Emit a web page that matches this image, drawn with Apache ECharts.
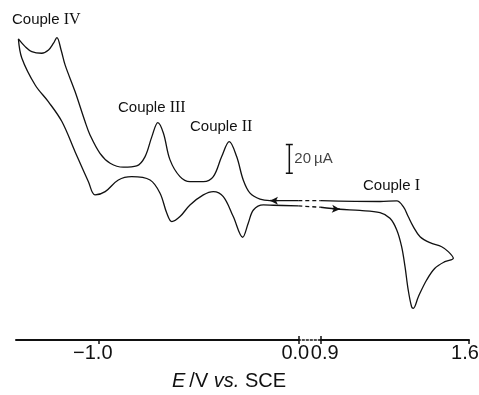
<!DOCTYPE html>
<html>
<head>
<meta charset="utf-8">
<script src="https://cdn.jsdelivr.net/npm/echarts@6/dist/echarts.min.js"></script>
<style>
html,body{margin:0;padding:0;background:#fff;}
#chart{width:479px;height:395px;}
</style>
</head>
<body>
<div id="chart"></div>
<script>
// ---- Data (E in V vs. SCE, current in µA; upward = cathodic) ----
// Negative-going scan from 0.0 V to the negative vertex (upper trace)
var upperE = [0.0, -0.142, -0.192, -0.242, -0.276, -0.309, -0.346, -0.384, -0.426, -0.476, -0.543, -0.593, -0.643, -0.676, -0.704, -0.734, -0.768, -0.810, -0.877, -0.943, -0.994, -1.044, -1.069, -1.119, -1.169, -1.189, -1.210, -1.227, -1.252, -1.286, -1.336, -1.369, -1.403];
var upperI = [1.6, 1.6, 2.6, 6.8, 16.0, 32.3, 42.7, 32.3, 18.3, 14.8, 14.8, 18.3, 30.0, 48.6, 56.0, 46.2, 32.3, 25.8, 24.9, 27.7, 34.6, 47.4, 56.7, 77.6, 96.2, 106.6, 115.2, 111.3, 106.6, 104.3, 105.4, 108.9, 114.3];
// Return scan from the negative vertex back to 0.0 V (lower trace)
var lowerE = [-1.386, -1.319, -1.253, -1.185, -1.119, -1.052, -1.019, -0.968, -0.902, -0.835, -0.743, -0.693, -0.659, -0.634, -0.593, -0.543, -0.476, -0.426, -0.376, -0.326, -0.279, -0.251, -0.225, -0.175, -0.125, 0.0];
var lowerI = [101.0, 82.2, 70.6, 56.7, 35.7, 14.8, 5.6, 7.9, 16.0, 18.3, 16.0, 6.8, -7.2, -13.0, -9.5, -1.4, 5.6, 7.9, 4.4, -9.5, -23.9, -14.1, -4.9, -1.4, -1.6, -2.1];
// Broken (dashed) part between 0.0 V and 0.9 V
var gapE = [0.0, 0.9];
var gapUpperI = [1.6, 1.6];
var gapLowerI = [-2.1, -3.0];
// Positive-going scan 0.9 V -> positive vertex (Couple I oxidation)
var rightFwdE = [0.900, 0.991, 1.085, 1.180, 1.227, 1.259, 1.282, 1.298, 1.313, 1.329, 1.337, 1.361, 1.400, 1.439, 1.486, 1.526];
var rightFwdI = [-3.0, -4.4, -5.2, -6.8, -10.7, -18.8, -30.4, -44.4, -60.6, -72.3, -73.4, -65.3, -53.7, -45.5, -40.9, -38.5];
// Return from the positive vertex to 0.9 V
var rightRevE = [1.502, 1.471, 1.416, 1.369, 1.337, 1.313, 1.290, 1.259, 1.180, 0.900];
var rightRevI = [-33.9, -30.5, -27.7, -23.5, -16.5, -9.5, -2.6, 1.4, 1.0, 1.6];
// Scan-direction arrows
var arrowUpE = [-0.105, -0.142];
var arrowUpI = [1.6, 1.6];
var arrowDownE = [0.955, 0.991];
var arrowDownI = [-4.0, -4.4];
// 20 µA scale bar
var scaleBarE = [-0.045, -0.045];
var scaleBarI = [20.7, 40.7];
// Axis ticks / labels
var leftTicks = [-1.0, 0.0];
var rightTicks = [0.9, 1.6];
var tickLabels = {'-1': '\u22121.0', '0': '0.0', '0.9': '0.9', '1.6': '1.6'};
var coupleLabels = ['Couple ', 'IV', 'III', 'II', 'I'];

function zip(a, b) { return a.map(function (v, k) { return [v, b[k]]; }); }

var leftData = zip(upperE, upperI).concat(zip(lowerE, lowerI));
var rightData = zip(rightFwdE, rightFwdI).concat(zip(rightRevE, rightRevI));

var INK = '#111';
var LW = 1.3;
var yMin = -95.5, yMax = 120.5;
var gridTop = 30, gridBottom = 55;
var SANS = 'Liberation Sans, Arial, sans-serif';

var chart = echarts.init(document.getElementById('chart'), null, {renderer: 'canvas'});

function coupleText(x, y, num) {
  return {
    type: 'text', left: x, top: y - 8, silent: true,
    style: {
      text: '{a|' + coupleLabels[0] + '}{b|' + num + '}',
      rich: {
        a: {fontFamily: SANS, fontSize: 15, fill: INK},
        b: {fontFamily: 'Liberation Serif, Times New Roman, serif', fontSize: 16, fill: INK}
      }
    }
  };
}

var LFS = 20;
var labelRich = {
  m: {fontSize: LFS, fontFamily: SANS, color: INK, padding: [0, 12, 0, 0]},
  z: {fontSize: LFS, fontFamily: SANS, color: INK, padding: [0, 6, 0, 0]},
  n: {fontSize: LFS, fontFamily: SANS, color: INK, padding: [0, 0, 0, 8]},
  e: {fontSize: LFS, fontFamily: SANS, color: INK, padding: [0, 8, 0, 0]}
};
function fmt(v) {
  var key = String(Math.round(v * 10) / 10);
  var t = tickLabels[key];
  if (key === '-1') return '{m|' + t + '}';
  if (key === '0') return '{z|' + t + '}';
  if (key === '0.9') return '{n|' + t + '}';
  return '{e|' + t + '}';
}

var baseX = {
  type: 'value', splitLine: {show: false},
  axisLine: {show: true, onZero: false, lineStyle: {color: INK, width: 2}},
  axisTick: {show: true, length: 4, inside: false, lineStyle: {color: INK, width: 1.5}},
  axisLabel: {show: true, margin: 3, formatter: fmt, rich: labelRich, fontSize: LFS, color: INK}
};

var option = {
  animation: false,
  backgroundColor: '#fff',
  grid: [
    {left: 16, width: 282.3, top: gridTop, bottom: gridBottom, outerBoundsMode: 'none', containLabel: false},
    {left: 298.3, width: 22.4, top: gridTop, bottom: gridBottom, outerBoundsMode: 'none', containLabel: false},
    {left: 320.7, width: 148.3, top: gridTop, bottom: gridBottom, outerBoundsMode: 'none', containLabel: false}
  ],
  xAxis: [
    Object.assign({}, baseX, {gridIndex: 0, min: -1.415, max: 0.0,
      axisTick: Object.assign({}, baseX.axisTick, {customValues: leftTicks}),
      axisLabel: Object.assign({}, baseX.axisLabel, {customValues: leftTicks})}),
    {type: 'value', gridIndex: 1, min: 0, max: 0.9, splitLine: {show: false},
      axisLine: {show: true, onZero: false, lineStyle: {color: INK, width: 1.5, type: [2, 2]}},
      axisTick: {show: true, inside: true, length: 4, customValues: [0, 0.9], lineStyle: {color: INK, width: 1.5}},
      axisLabel: {show: false}},
    Object.assign({}, baseX, {gridIndex: 2, min: 0.9, max: 1.6,
      axisTick: Object.assign({}, baseX.axisTick, {customValues: rightTicks}),
      axisLabel: Object.assign({}, baseX.axisLabel, {customValues: rightTicks})})
  ],
  yAxis: [
    {type: 'value', gridIndex: 0, min: yMin, max: yMax, show: false},
    {type: 'value', gridIndex: 1, min: yMin, max: yMax, show: false},
    {type: 'value', gridIndex: 2, min: yMin, max: yMax, show: false}
  ],
  series: [
    {
      type: 'line', xAxisIndex: 0, yAxisIndex: 0, data: leftData,
      smooth: 0.35, showSymbol: false, clip: false,
      lineStyle: {color: INK, width: LW},
      markLine: {
        silent: true, symbol: ['none', 'arrow'], symbolSize: [6, 8],
        label: {show: false},
        lineStyle: {color: INK, width: LW, type: 'solid'},
        data: [[{coord: [arrowUpE[0], arrowUpI[0]]}, {coord: [arrowUpE[1], arrowUpI[1]]}]]
      }
    },
    {
      type: 'line', xAxisIndex: 1, yAxisIndex: 1, data: zip(gapE, gapUpperI),
      showSymbol: false, clip: false, lineStyle: {color: INK, width: LW, type: [4, 3]}
    },
    {
      type: 'line', xAxisIndex: 1, yAxisIndex: 1, data: zip(gapE, gapLowerI),
      showSymbol: false, clip: false, lineStyle: {color: INK, width: LW, type: [4, 3]}
    },
    {
      type: 'line', xAxisIndex: 2, yAxisIndex: 2, data: rightData,
      smooth: 0.35, showSymbol: false, clip: false,
      lineStyle: {color: INK, width: LW},
      markLine: {
        silent: true, symbol: ['none', 'arrow'], symbolSize: [6, 8],
        label: {show: false},
        lineStyle: {color: INK, width: LW, type: 'solid'},
        data: [[{coord: [arrowDownE[0], arrowDownI[0]]}, {coord: [arrowDownE[1], arrowDownI[1]]}]]
      }
    },
    {
      type: 'line', xAxisIndex: 0, yAxisIndex: 0, data: zip(scaleBarE, scaleBarI),
      showSymbol: true, symbol: 'rect', symbolSize: [7, 1.5], clip: false,
      itemStyle: {color: INK}, lineStyle: {color: INK, width: 1.5}
    },
    {
      type: 'scatter', xAxisIndex: 0, yAxisIndex: 0, clip: false,
      data: [[scaleBarE[0], (scaleBarI[0] + scaleBarI[1]) / 2]],
      symbolSize: 0,
      label: {show: true, position: 'right', distance: 5, formatter: '20\u2009\u00b5A',
        fontSize: 15, fontFamily: SANS, color: INK}
    }
  ],
  graphic: [
    coupleText(12, 20, coupleLabels[1]),
    coupleText(118, 108, coupleLabels[2]),
    coupleText(190, 127, coupleLabels[3]),
    coupleText(363, 186, coupleLabels[4]),
    {
      type: 'text', left: 172, top: 371, silent: true,
      style: {
        text: '{i|E}\u2009/V {i|vs.} SCE',
        rich: {
          i: {fontStyle: 'italic', fontSize: 20, fontFamily: SANS, fill: INK}
        },
        font: '20px Liberation Sans, Arial, sans-serif',
        fill: INK
      }
    }
  ]
};
chart.setOption(option);
</script>
</body>
</html>
